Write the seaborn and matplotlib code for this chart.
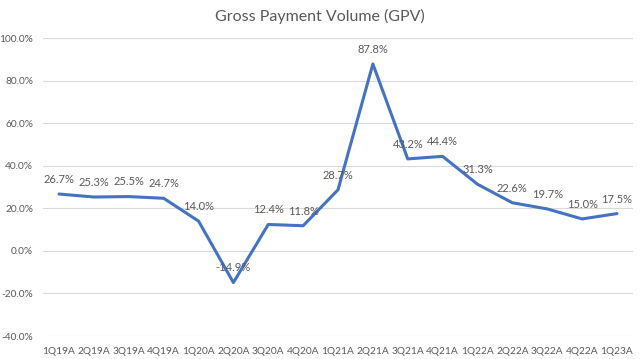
import matplotlib
matplotlib.use("Agg")
import matplotlib.pyplot as plt
import pandas as pd
import seaborn as sns

# Quarterly GPV growth (%)
quarters = ["1Q19A", "2Q19A", "3Q19A", "4Q19A", "1Q20A", "2Q20A", "3Q20A", "4Q20A",
            "1Q21A", "2Q21A", "3Q21A", "4Q21A", "1Q22A", "2Q22A", "3Q22A", "4Q22A", "1Q23A"]
growth = [26.7, 25.3, 25.5, 24.7, 14.0, -14.9, 12.4, 11.8,
          28.7, 87.8, 43.2, 44.4, 31.3, 22.6, 19.7, 15.0, 17.5]
y_ticks = [-40, -20, 0, 20, 40, 60, 80, 100]

df = pd.DataFrame({"quarter": quarters, "growth": growth})

sns.set_style("white")
plt.rcParams["font.family"] = ["Lato", "DejaVu Sans"]

grey = "#595959"
fig = plt.figure(figsize=(6.4, 3.59), dpi=100)
ax = fig.add_axes([43 / 640, 23 / 359, 590 / 640, 298 / 359])

sns.lineplot(data=df, x="quarter", y="growth", ax=ax, color="#4472C4",
             linewidth=2.2, sort=False)

for i, v in enumerate(growth):
    ax.annotate(f"{v:.1f}%", (i, v), xytext=(0, 10.5), textcoords="offset points",
                ha="center", va="center", fontsize=8, color=grey)

ax.set_xlim(-0.46, len(quarters) - 0.54)
ax.set_ylim(-40, 100)
ax.set_yticks(y_ticks)
ax.set_yticklabels([f"{t:.1f}%" for t in y_ticks])
ax.yaxis.grid(True, color="#D9D9D9", linewidth=0.8)
ax.xaxis.grid(False)
ax.set_axisbelow(True)
for s in ax.spines.values():
    s.set_visible(False)
ax.tick_params(axis="both", length=0, labelsize=7.3, colors=grey)
ax.tick_params(axis="y", pad=7)
ax.tick_params(axis="x", pad=8)
ax.set_xlabel("")
ax.set_ylabel("")

fig.text(0.5, 1 - 16 / 359, "Gross Payment Volume (GPV)", ha="center", va="center",
         fontsize=11.5, color=grey)

fig.savefig("out.png", dpi=100)
